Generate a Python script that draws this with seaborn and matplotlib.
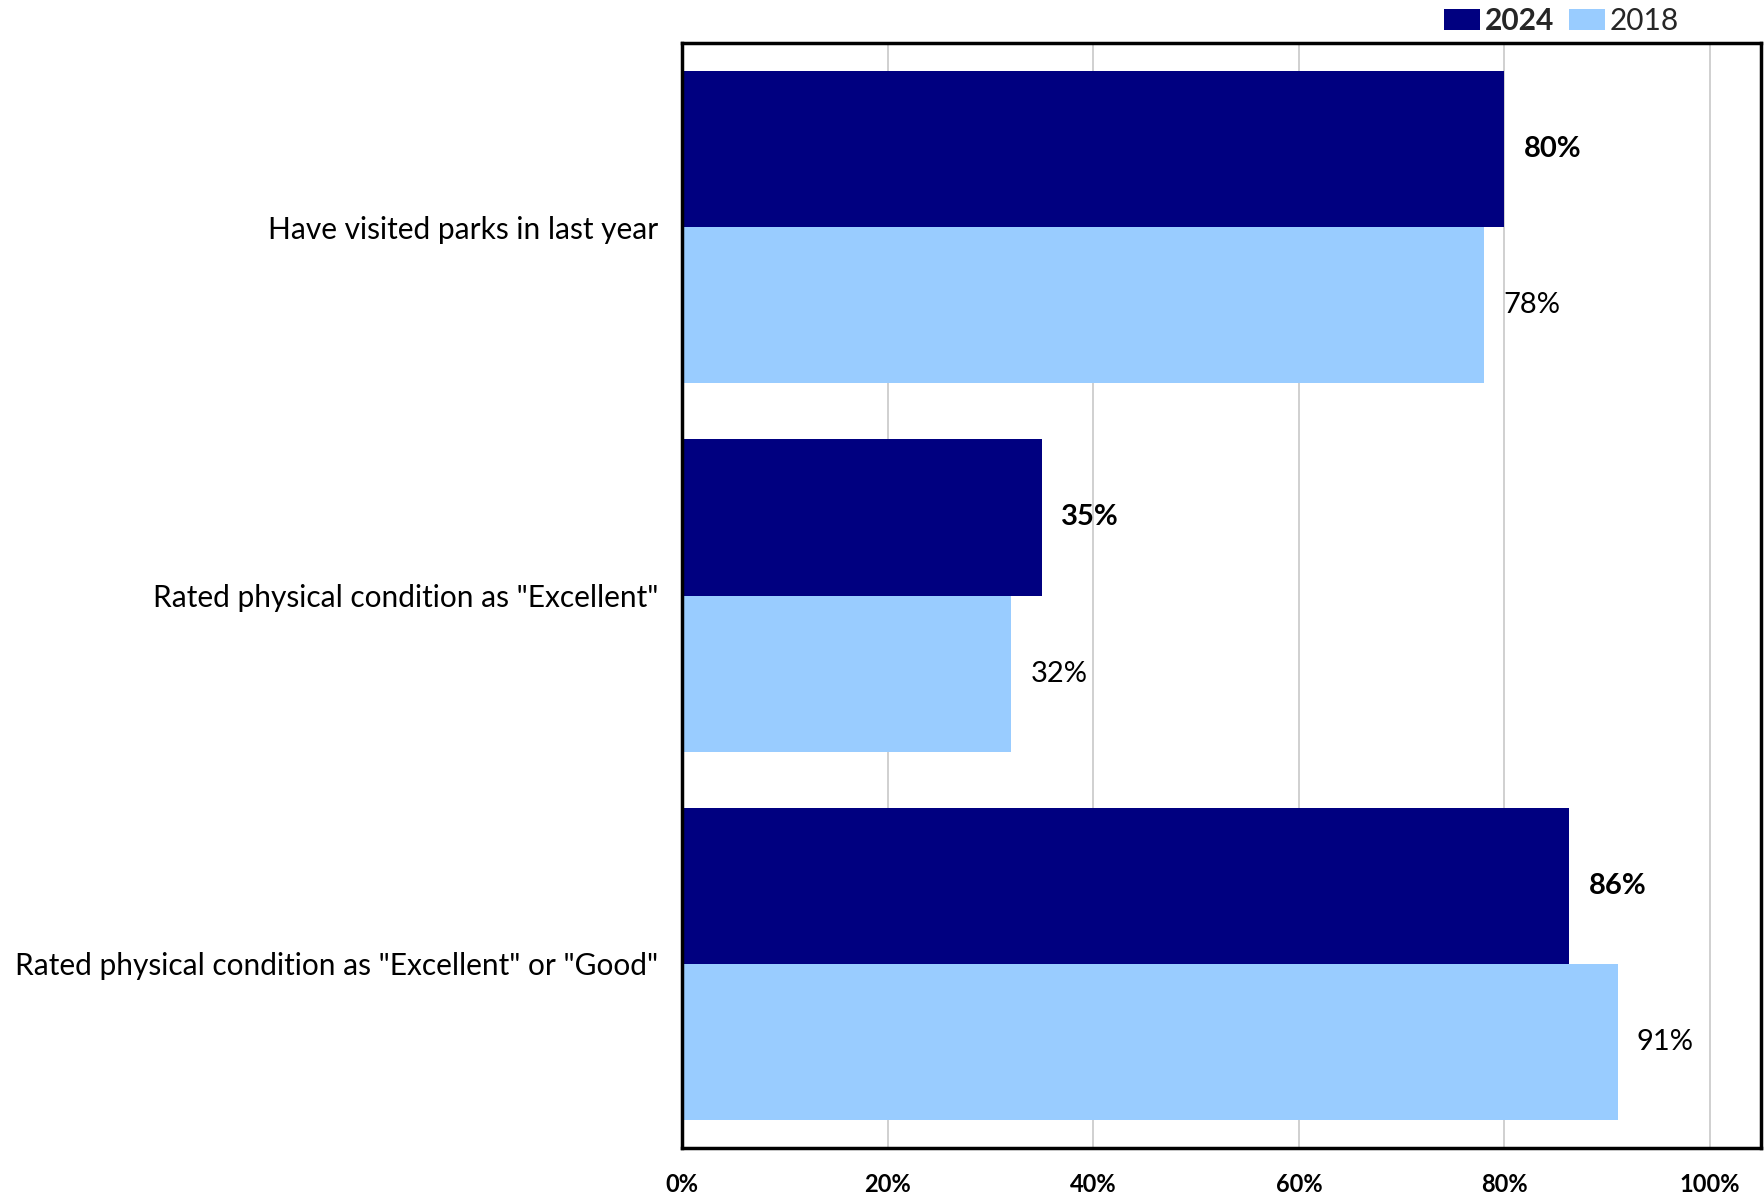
import matplotlib
matplotlib.use("Agg")
import matplotlib.pyplot as plt
import seaborn as sns
import pandas as pd
from matplotlib.patches import Patch

categories = [
    "Have visited parks in last year",
    'Rated physical condition as "Excellent"',
    'Rated physical condition as "Excellent" or "Good"',
]
years = ["2024", "2018"]
values_2024 = [80, 35, 86.3]
values_2018 = [78, 32, 91]
label_2024 = ["80%", "35%", "86%"]
label_2018 = ["78%", "32%", "91%"]
x_ticks = [0, 20, 40, 60, 80, 100]
x_tick_labels = ["0%", "20%", "40%", "60%", "80%", "100%"]
colors = {"2024": "#000080", "2018": "#99CCFF"}

df = pd.DataFrame({
    "Category": categories * 2,
    "Year": ["2024"] * 3 + ["2018"] * 3,
    "Value": values_2024 + values_2018,
})

sns.set_theme(style="white")
plt.rcParams["font.family"] = ["Lato", "DejaVu Sans"]

fig = plt.figure(figsize=(17.65, 11.97), dpi=100)
ax = fig.add_axes([0.3864, 0.041, 0.6116, 0.923])

sns.barplot(data=df, y="Category", x="Value", hue="Year", hue_order=years,
            palette=colors, orient="h", width=0.848, ax=ax, legend=False,
            saturation=1, linewidth=0, errorbar=None)

ax.set_xlim(0, 105)
ax.set_ylim(2.5, -0.5)
ax.set_xticks(x_ticks)
ax.set_xticklabels(x_tick_labels, fontsize=17, fontweight="bold", color="black")
ax.tick_params(axis="x", length=0, pad=18)
ax.tick_params(axis="y", length=0, pad=17, labelsize=21.5, labelcolor="black")
ax.set_xlabel("")
ax.set_ylabel("")
ax.xaxis.grid(True, color="#C8C8C8", linewidth=1.2)
ax.set_axisbelow(True)
for s in ax.spines.values():
    s.set_visible(True)
    s.set_color("black")
    s.set_linewidth(2.5)

c24, c18 = ax.containers[0], ax.containers[1]
ax.bar_label(c24, labels=label_2024, padding=14, fontsize=21, fontweight="bold", color="black")
ax.bar_label(c18, labels=label_2018, padding=14, fontsize=21, color="black")

handles = [Patch(facecolor=colors[y], edgecolor="none") for y in years]
leg = fig.legend(handles, years, loc="center right", bbox_to_anchor=(0.951, 0.9825),
                 ncol=2, frameon=False, fontsize=21.5, handlelength=1.2,
                 handleheight=0.75, handletextpad=0.15, columnspacing=0.5,
                 borderaxespad=0, borderpad=0)
leg.get_texts()[0].set_fontweight("bold")

fig.savefig("out.png", dpi=100)
